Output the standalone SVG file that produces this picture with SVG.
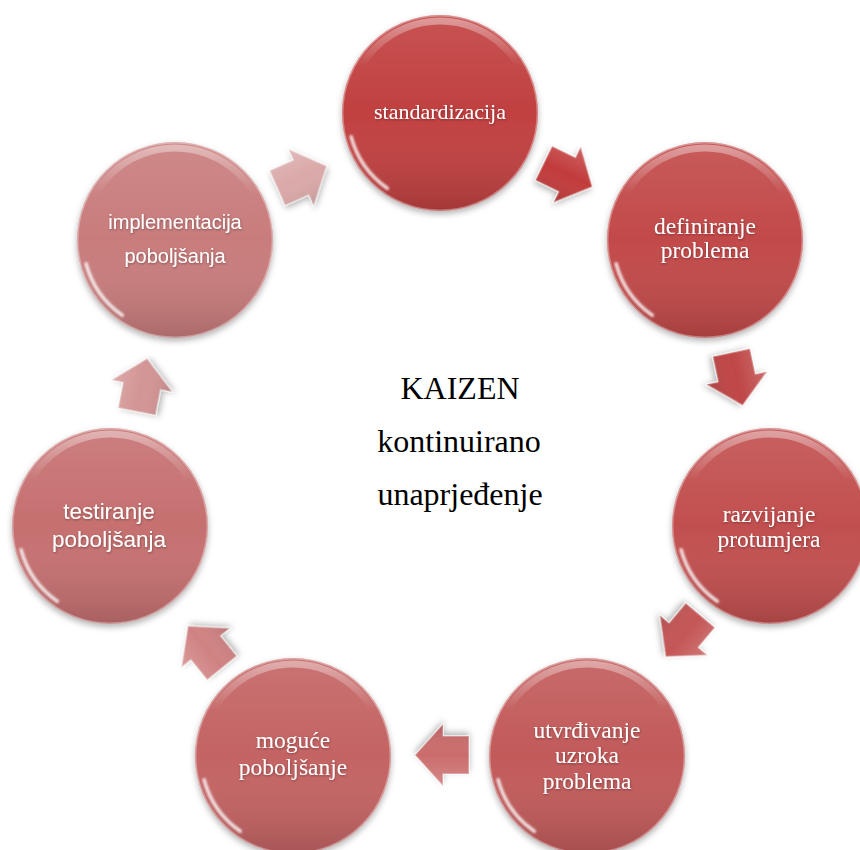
<svg xmlns="http://www.w3.org/2000/svg" width="860" height="850" viewBox="0 0 860 850">
  <defs>
    <style>
      .base { stroke: none; }
      .shade { fill: url(#shade); }
      .tophl { fill: none; stroke: url(#topHL); stroke-width: 7; }
      .rim { fill: none; stroke: #ffffff; stroke-opacity: 0.35; stroke-width: 1.5; }
      .crescent { fill: none; stroke: #ffffff; stroke-opacity: 0.8; stroke-width: 3.5; stroke-linecap: round; }
      .serif { font-family: "Liberation Serif", "Times New Roman", serif; fill: #ffffff; text-anchor: middle; }
      .sans { font-family: "Liberation Sans", Arial, sans-serif; fill: #ffffff; text-anchor: middle; }
      .center { font-family: "Liberation Serif", "Times New Roman", serif; fill: #000000; text-anchor: middle; font-size: 32px; }
      .arr { stroke: #ffffff; stroke-opacity: 0.4; stroke-width: 1.5; stroke-linejoin: round; }
    </style>
    <linearGradient id="shade" x1="0" y1="0" x2="0" y2="1">
      <stop offset="0" stop-color="#ffffff" stop-opacity="0.10"/>
      <stop offset="0.5" stop-color="#ffffff" stop-opacity="0"/>
      <stop offset="1" stop-color="#000000" stop-opacity="0.15"/>
    </linearGradient>
    <linearGradient id="topHL" x1="0" y1="0" x2="0" y2="1">
      <stop offset="0" stop-color="#ffffff" stop-opacity="0.4"/>
      <stop offset="0.25" stop-color="#ffffff" stop-opacity="0"/>
      <stop offset="1" stop-color="#ffffff" stop-opacity="0"/>
    </linearGradient>
    <linearGradient id="arrShade" x1="0" y1="0" x2="0" y2="1">
      <stop offset="0" stop-color="#ffffff" stop-opacity="0.2"/>
      <stop offset="0.5" stop-color="#ffffff" stop-opacity="0"/>
      <stop offset="1" stop-color="#000000" stop-opacity="0.12"/>
    </linearGradient>
    <filter id="shadow" x="-20%" y="-20%" width="140%" height="140%">
      <feDropShadow dx="0" dy="3" stdDeviation="3" flood-color="#000000" flood-opacity="0.3"/>
    </filter>
    <filter id="tshadow" x="-10%" y="-30%" width="120%" height="160%">
      <feDropShadow dx="0.5" dy="1" stdDeviation="0.8" flood-color="#000000" flood-opacity="0.35"/>
    </filter>
    <filter id="soft" x="-30%" y="-30%" width="160%" height="160%">
      <feGaussianBlur stdDeviation="0.9"/>
    </filter>
    <path id="arrow" d="M -27 -19 L -1 -19 L -1 -31 L 27 0 L -1 31 L -1 19 L -27 19 Z"/>
    <g id="gloss">
      <circle r="98" class="shade"/>
      <circle r="92" class="tophl"/>
      <path d="M -52.7 75.3 A 92 92 0 0 1 -88.9 23.8" class="crescent" filter="url(#soft)"/>
      <circle r="97.3" class="rim"/>
    </g>
  </defs>

  <rect width="860" height="850" fill="#ffffff"/>

  <g id="connectors">
    <g transform="translate(568,175) rotate(26)" filter="url(#shadow)">
      <use href="#arrow" fill="#c23b3b" class="arr"/>
      <use href="#arrow" fill="url(#arrShade)"/>
    </g>
    <g transform="translate(737,379) rotate(78)" filter="url(#shadow)">
      <use href="#arrow" fill="#bf4646" class="arr"/>
      <use href="#arrow" fill="url(#arrShade)"/>
    </g>
    <g transform="translate(683,636) rotate(130)" filter="url(#shadow)">
      <use href="#arrow" fill="#c45656" class="arr"/>
      <use href="#arrow" fill="url(#arrShade)"/>
    </g>
    <g transform="translate(442,755) rotate(180)" filter="url(#shadow)">
      <use href="#arrow" fill="#cb6c6c" class="arr"/>
      <use href="#arrow" fill="url(#arrShade)"/>
    </g>
    <g transform="translate(205,647) rotate(231)" filter="url(#shadow)">
      <use href="#arrow" fill="#d08282" class="arr"/>
      <use href="#arrow" fill="url(#arrShade)"/>
    </g>
    <g transform="translate(142,385) rotate(-79)" filter="url(#shadow)">
      <use href="#arrow" fill="#d39494" class="arr"/>
      <use href="#arrow" fill="url(#arrShade)"/>
    </g>
    <g transform="translate(302,177) rotate(-24)" filter="url(#shadow)">
      <use href="#arrow" fill="#daa8a8" class="arr"/>
      <use href="#arrow" fill="url(#arrShade)"/>
    </g>
  </g>

  <g id="n1" transform="translate(440,113)">
    <circle r="98" fill="#c14141" filter="url(#shadow)"/>
    <use href="#gloss"/>
    <text class="serif" font-size="22" y="6" filter="url(#tshadow)">standardizacija</text>
  </g>

  <g id="n2" transform="translate(705,240)">
    <circle r="98" fill="#c24848" filter="url(#shadow)"/>
    <use href="#gloss"/>
    <text class="serif" font-size="23.5" y="-6" filter="url(#tshadow)">definiranje</text>
    <text class="serif" font-size="23.5" y="18" filter="url(#tshadow)">problema</text>
  </g>

  <g id="n3" transform="translate(770,526)">
    <circle r="98" fill="#c25050" filter="url(#shadow)"/>
    <use href="#gloss"/>
    <text class="serif" font-size="23.5" x="-1" y="-4" filter="url(#tshadow)">razvijanje</text>
    <text class="serif" font-size="23.5" x="-1" y="21" filter="url(#tshadow)">protumjera</text>
  </g>

  <g id="n4" transform="translate(587,756)">
    <circle r="98" fill="#c25a5a" filter="url(#shadow)"/>
    <use href="#gloss"/>
    <text class="serif" font-size="23.5" y="-18" filter="url(#tshadow)">utvrđivanje</text>
    <text class="serif" font-size="23.5" y="7" filter="url(#tshadow)">uzroka</text>
    <text class="serif" font-size="23.5" y="33" filter="url(#tshadow)">problema</text>
  </g>

  <g id="n5" transform="translate(293,756)">
    <circle r="98" fill="#c46464" filter="url(#shadow)"/>
    <use href="#gloss"/>
    <text class="serif" font-size="23.5" y="-8" filter="url(#tshadow)">moguće</text>
    <text class="serif" font-size="23.5" y="19" filter="url(#tshadow)">poboljšanje</text>
  </g>

  <g id="n6" transform="translate(110,526)">
    <circle r="98" fill="#c66f6f" filter="url(#shadow)"/>
    <use href="#gloss"/>
    <text class="sans" font-size="22.5" x="-1" y="-7" filter="url(#tshadow)">testiranje</text>
    <text class="sans" font-size="22.5" x="-1" y="21" filter="url(#tshadow)">poboljšanja</text>
  </g>

  <g id="n7" transform="translate(175,240)">
    <circle r="98" fill="#c97c7c" filter="url(#shadow)"/>
    <use href="#gloss"/>
    <text class="sans" font-size="20" y="-11" filter="url(#tshadow)">implementacija</text>
    <text class="sans" font-size="20" y="23" filter="url(#tshadow)">poboljšanja</text>
  </g>

  <g id="title">
    <text class="center" x="460" y="399">KAIZEN</text>
    <text class="center" x="459" y="452">kontinuirano</text>
    <text class="center" x="460" y="505">unaprjeđenje</text>
  </g>
</svg>
